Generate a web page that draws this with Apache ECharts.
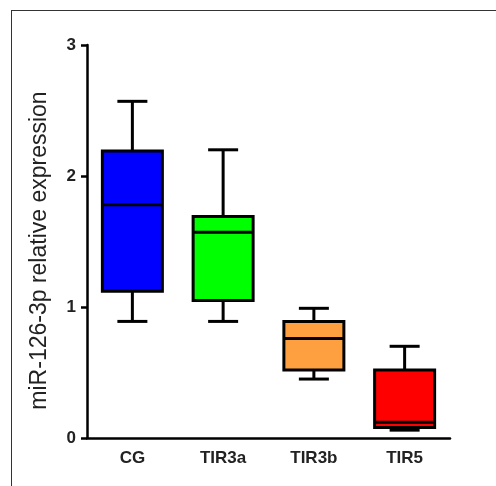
<!DOCTYPE html>
<html>
<head>
<meta charset="utf-8">
<script src="https://cdn.jsdelivr.net/npm/echarts@6/dist/echarts.min.js"></script>
<style>
  html, body { margin: 0; padding: 0; background: #fff; overflow: hidden; }
  #chart { width: 496px; height: 486px; }
</style>
</head>
<body>
<div id="chart"></div>
<script>
// groups on the x axis
var groups = ['CG', 'TIR3a', 'TIR3b', 'TIR5'];
// box stats: [min, Q1, median, Q3, max]
var lowWhisker = [0.89, 0.89, 0.45, 0.06];
var q1Values   = [1.12, 1.05, 0.52, 0.08];
var medians    = [1.78, 1.57, 0.76, 0.12];
var q3Values   = [2.19, 1.69, 0.89, 0.52];
var highWhisker = [2.57, 2.20, 0.99, 0.70];
var boxColors = ['#0000ff', '#00ff00', '#ffa040', '#ff0000'];
var yTicks = [0, 1, 2, 3];

var chart = echarts.init(document.getElementById('chart'));

var boxData = groups.map(function (g, i) {
  return [i, lowWhisker[i], q1Values[i], medians[i], q3Values[i], highWhisker[i]];
});

function renderBox(params, api) {
  var idx = api.value(0);
  var lo = api.coord([idx, api.value(1)]);
  var q1 = api.coord([idx, api.value(2)]);
  var md = api.coord([idx, api.value(3)]);
  var q3 = api.coord([idx, api.value(4)]);
  var hi = api.coord([idx, api.value(5)]);
  var cx = lo[0];
  var half = 30, cap = 15;
  var line = { stroke: '#000', lineWidth: 3 };
  return {
    type: 'group',
    children: [
      { type: 'line', shape: { x1: cx, y1: hi[1], x2: cx, y2: q3[1] }, style: line },
      { type: 'line', shape: { x1: cx - cap, y1: hi[1], x2: cx + cap, y2: hi[1] }, style: line },
      { type: 'line', shape: { x1: cx, y1: lo[1], x2: cx, y2: q1[1] }, style: line },
      { type: 'line', shape: { x1: cx - cap, y1: lo[1], x2: cx + cap, y2: lo[1] }, style: line },
      {
        type: 'rect',
        shape: { x: cx - half, y: q3[1], width: half * 2, height: q1[1] - q3[1] },
        style: { fill: boxColors[idx], stroke: '#000', lineWidth: 3 }
      },
      { type: 'line', shape: { x1: cx - half, y1: md[1], x2: cx + half, y2: md[1] }, style: line }
    ]
  };
}

var option = {
  animation: false,
  backgroundColor: '#fff',
  // outer frame: only the top and left edges show
  graphic: [
    { type: 'line', shape: { x1: 11, y1: 10.5, x2: 496, y2: 10.5 }, style: { stroke: '#333', lineWidth: 1 } },
    { type: 'line', shape: { x1: 11.5, y1: 10, x2: 11.5, y2: 486 }, style: { stroke: '#333', lineWidth: 1 } }
  ],
  grid: { left: 87, right: 46, top: 45, bottom: 48 },
  xAxis: {
    type: 'category',
    data: groups,
    axisLine: { lineStyle: { color: '#000', width: 2.5 } },
    axisTick: { alignWithLabel: true, length: 6, lineStyle: { color: '#000', width: 2.5 } },
    axisLabel: {
      margin: 12,
      color: '#222',
      fontFamily: 'Liberation Sans',
      fontWeight: 'bold',
      fontSize: 17
    }
  },
  yAxis: {
    type: 'value',
    min: 0,
    max: 3,
    interval: 1,
    name: 'miR-126-3p relative expression',
    nameLocation: 'middle',
    nameGap: 36,
    nameTextStyle: {
      color: '#222',
      fontFamily: 'Liberation Sans',
      fontSize: 23,
      padding: [0, 18, 0, 0]
    },
    axisLine: { show: true, lineStyle: { color: '#000', width: 2.5 } },
    axisTick: { show: true, length: 6, lineStyle: { color: '#000', width: 2.5 } },
    splitLine: { show: false },
    axisLabel: {
      margin: 11,
      color: '#222',
      fontFamily: 'Liberation Sans',
      fontWeight: 'bold',
      fontSize: 17,
      formatter: function (v) { return yTicks.indexOf(v) >= 0 ? String(v) : ''; }
    }
  },
  series: [{
    type: 'custom',
    renderItem: renderBox,
    encode: { x: 0, y: [1, 2, 3, 4, 5] },
    data: boxData
  }]
};

chart.setOption(option);
</script>
</body>
</html>
